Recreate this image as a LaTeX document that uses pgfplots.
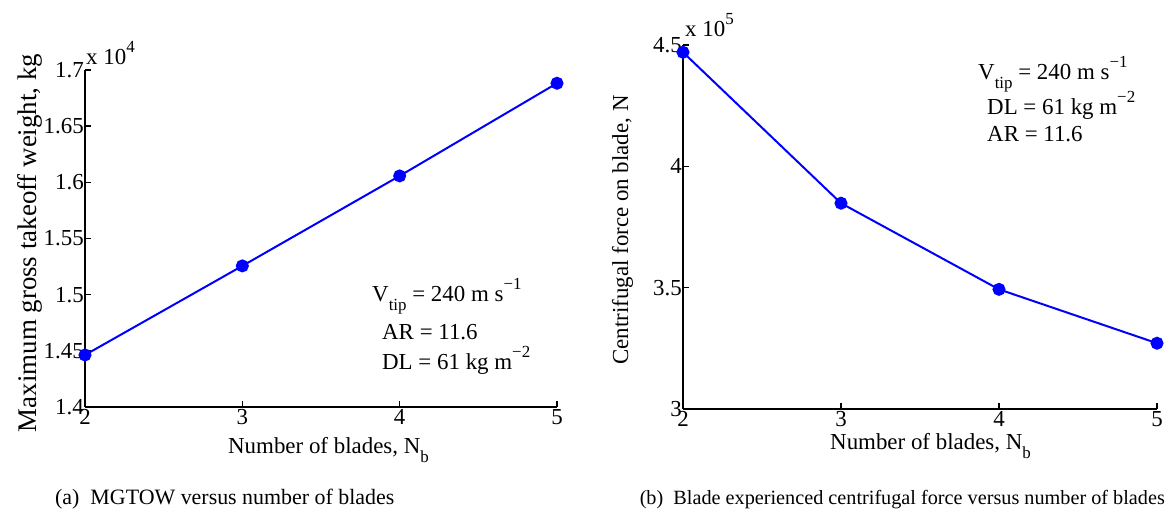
\documentclass[border=0pt]{standalone}
\usepackage{fontspec}
\setmainfont{Liberation Serif}
\usepackage{pgfplots}
\usepackage{pgfplotstable}
\pgfplotsset{compat=1.18}

% MATLAB-style lowered subscripts and raised superscripts
\newcommand{\lowsub}[1]{\raisebox{-9bp}{\fontsize{17}{17}\selectfont #1}}
\newcommand{\highsup}[1]{\raisebox{12bp}{\fontsize{17}{17}\selectfont #1}}
\newcommand{\lab}{\fontsize{23}{27}\selectfont}

% Maximum gross takeoff weight (kg) against number of blades
\pgfplotstableread{
nb mgtow
2 14463
3 15256
4 16057
5 16882
}\mgtowdata

% Centrifugal force on one blade (N) against number of blades
\pgfplotstableread{
nb force
2 447000
3 384800
4 349300
5 327100
}\forcedata

\pgfplotsset{
  matlab/.style={
    scale only axis, axis lines*=left, tick align=inside, major tick length=6bp,
    axis line style={line width=1.4bp, black},
    every tick/.style={line width=1.4bp, black},
    xmin=2, xmax=5, xtick={2,3,4,5}, xticklabels={2,3,4,5},
    tick label style={font=\lab},
    xticklabel style={inner sep=2bp},
    yticklabel style={inner sep=1bp},
    scaled y ticks=false,
    clip=false,
  },
  series/.style={blue, line width=2bp, mark=*, mark size=5.5bp,
    mark options={solid, fill=blue}},
}

\begin{document}
\begin{tikzpicture}[x=1bp,y=1bp]
\path[use as bounding box] (0,0) rectangle (1167,516);

% (a) MGTOW
\begin{axis}[matlab, at={(85bp,109bp)}, anchor=south west,
  width=472bp, height=337bp,
  ymin=14000, ymax=17000,
  ytick={14000,14500,15000,15500,16000,16500,17000},
  yticklabels={1.4,1.45,1.5,1.55,1.6,1.65,1.7}]
\addplot[series] table[x=nb, y=mgtow]{\mgtowdata};
\end{axis}

% (b) centrifugal force
\begin{axis}[matlab, at={(683bp,107bp)}, anchor=south west,
  width=474bp, height=364bp,
  ymin=300000, ymax=450000,
  ytick={300000,350000,400000,450000},
  yticklabels={3,3.5,4,4.5}]
\addplot[series] table[x=nb, y=force]{\forcedata};
\end{axis}

\begin{scope}[every node/.style={font=\lab, inner sep=0pt}]
  % exponent labels
  \node[anchor=base west] at (86,451) {x 10\highsup{4}};
  \node[anchor=base west] at (685,479) {x 10\highsup{5}};
  % axis labels
  \node[rotate=90, anchor=base, font=\fontsize{27}{31}\selectfont] at (36,273) {Maximum gross takeoff weight, kg};
  \node[rotate=90, anchor=base] at (628,286) {Centrifugal force on blade, N};
  \node[anchor=base west] at (228,62) {Number of blades, N\lowsub{b}};
  \node[anchor=base west] at (830,66) {Number of blades, N\lowsub{b}};
  % design parameters
  \node[anchor=base west] at (372,214) {V\lowsub{tip} = 240 m s\highsup{−1}};
  \node[anchor=base west] at (382,176) {AR = 11.6};
  \node[anchor=base west] at (382,146) {DL = 61 kg m\highsup{−2}};
  \node[anchor=base west] at (978,436) {V\lowsub{tip} = 240 m s\highsup{−1}};
  \node[anchor=base west] at (987,401) {DL = 61 kg m\highsup{−2}};
  \node[anchor=base west] at (987,374) {AR = 11.6};
\end{scope}

% sub-captions
\node[anchor=base west, inner sep=0pt, font=\fontsize{22}{26}\selectfont] at (55,11)
  {(a)\ \ MGTOW versus number of blades};
\node[anchor=base east, inner sep=0pt, font=\fontsize{20.3}{24}\selectfont] at (1165,11)
  {(b)\ \ Blade experienced centrifugal force versus number of blades};
\end{tikzpicture}
\end{document}
